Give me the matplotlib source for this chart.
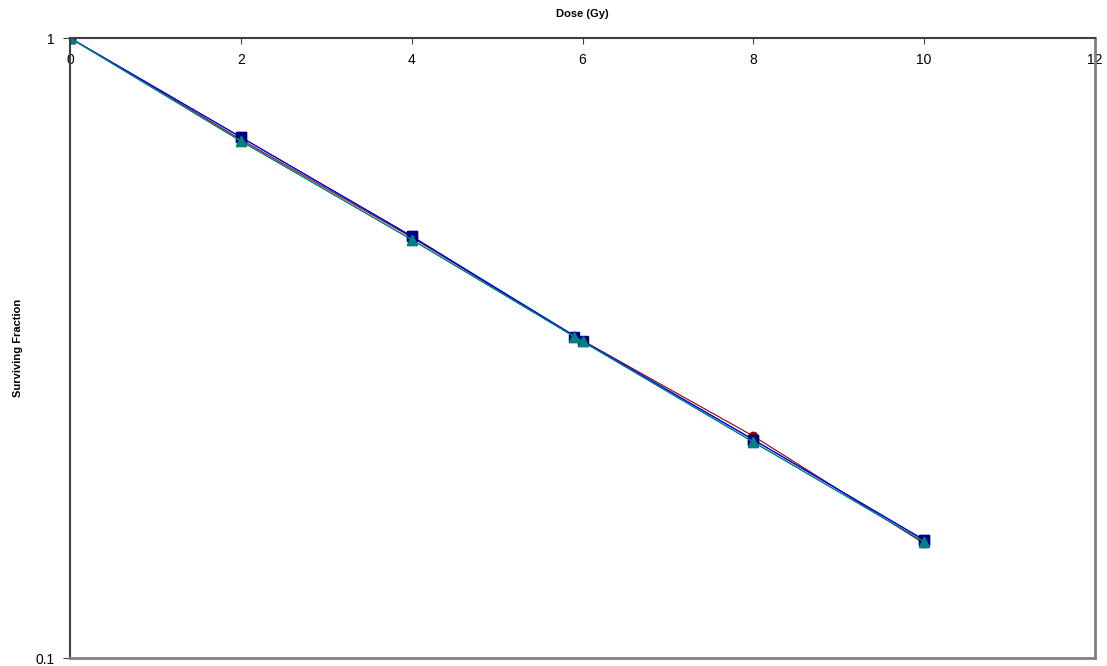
import numpy as np
import matplotlib
matplotlib.use("Agg")
import matplotlib.pyplot as plt
from matplotlib.ticker import FixedLocator, NullLocator

plt.rcParams['font.family'] = ['Liberation Sans', 'DejaVu Sans']

# dose values (Gy) and surviving fractions
dose_a = [0, 2, 4, 5.9, 8, 10]
dose_b = [0, 2, 4, 6, 8, 10]
sf_red = [1.0, 0.686, 0.477, 0.331, 0.228, 0.153]
sf_navy = [1.0, 0.692, 0.479, 0.330, 0.225, 0.155]
sf_teal_a = [1.0, 0.682, 0.473, 0.330, 0.223, 0.154]
sf_blue = [1.0, 0.692, 0.479, 0.325, 0.225, 0.155]
sf_teal_b = [1.0, 0.682, 0.473, 0.324, 0.223, 0.154]

fig = plt.figure(figsize=(11.07, 6.66), dpi=100)
ax = fig.add_axes([70/1107, 8/666, 1025/1107, 620/666])

ax.plot(dose_a, sf_red, color='#8b0000', lw=0.8, marker='o', ms=6, mfc='#8b0000', mec='#8b0000')
ax.plot(dose_a, sf_navy, color='#000080', lw=0.8, marker='s', ms=6.5, mfc='#000080', mec='#000080')
ax.plot(dose_b, sf_blue, color='#0000ff', lw=0.8, marker='s', ms=6.5, mfc='#000080', mec='#000080')
ax.plot(dose_a, sf_teal_a, color='#008080', lw=0.8, marker='^', ms=6.5, mfc='#008080', mec='#008080')
ax.plot(dose_b, sf_teal_b, color='#008080', lw=0.8, marker='^', ms=6.5, mfc='#008080', mec='#008080')

ax.set_yscale('log')
ax.set_ylim(0.1, 1)
ax.set_xlim(0, 12)
ax.yaxis.set_major_locator(FixedLocator([0.1, 1]))
ax.yaxis.set_minor_locator(NullLocator())
ax.set_yticklabels(['0.1', '1'])
ax.set_xticks(range(0, 13, 2))

# x axis sits at the top, labels hang just under it
ax.xaxis.tick_top()
ax.tick_params(axis='x', direction='in', length=4, pad=-21, labelsize=10, color='#404040')
ax.tick_params(axis='y', direction='out', length=5, pad=6, labelsize=10, color='#404040')

fig.text((70 + 1025/2)/1107, 1 - 14/666, 'Dose (Gy)', fontsize=8, fontweight='bold',
         ha='center', va='center')
fig.text(18/1107, 1 - 348/666, 'Surviving Fraction', fontsize=8, fontweight='bold',
         rotation=90, ha='center', va='center')

for s in ['top', 'left']:
    ax.spines[s].set_color('#404040')
    ax.spines[s].set_linewidth(1.5)
for s in ['right', 'bottom']:
    ax.spines[s].set_color('#808080')
    ax.spines[s].set_linewidth(2)

fig.savefig('out.png', dpi=100)
